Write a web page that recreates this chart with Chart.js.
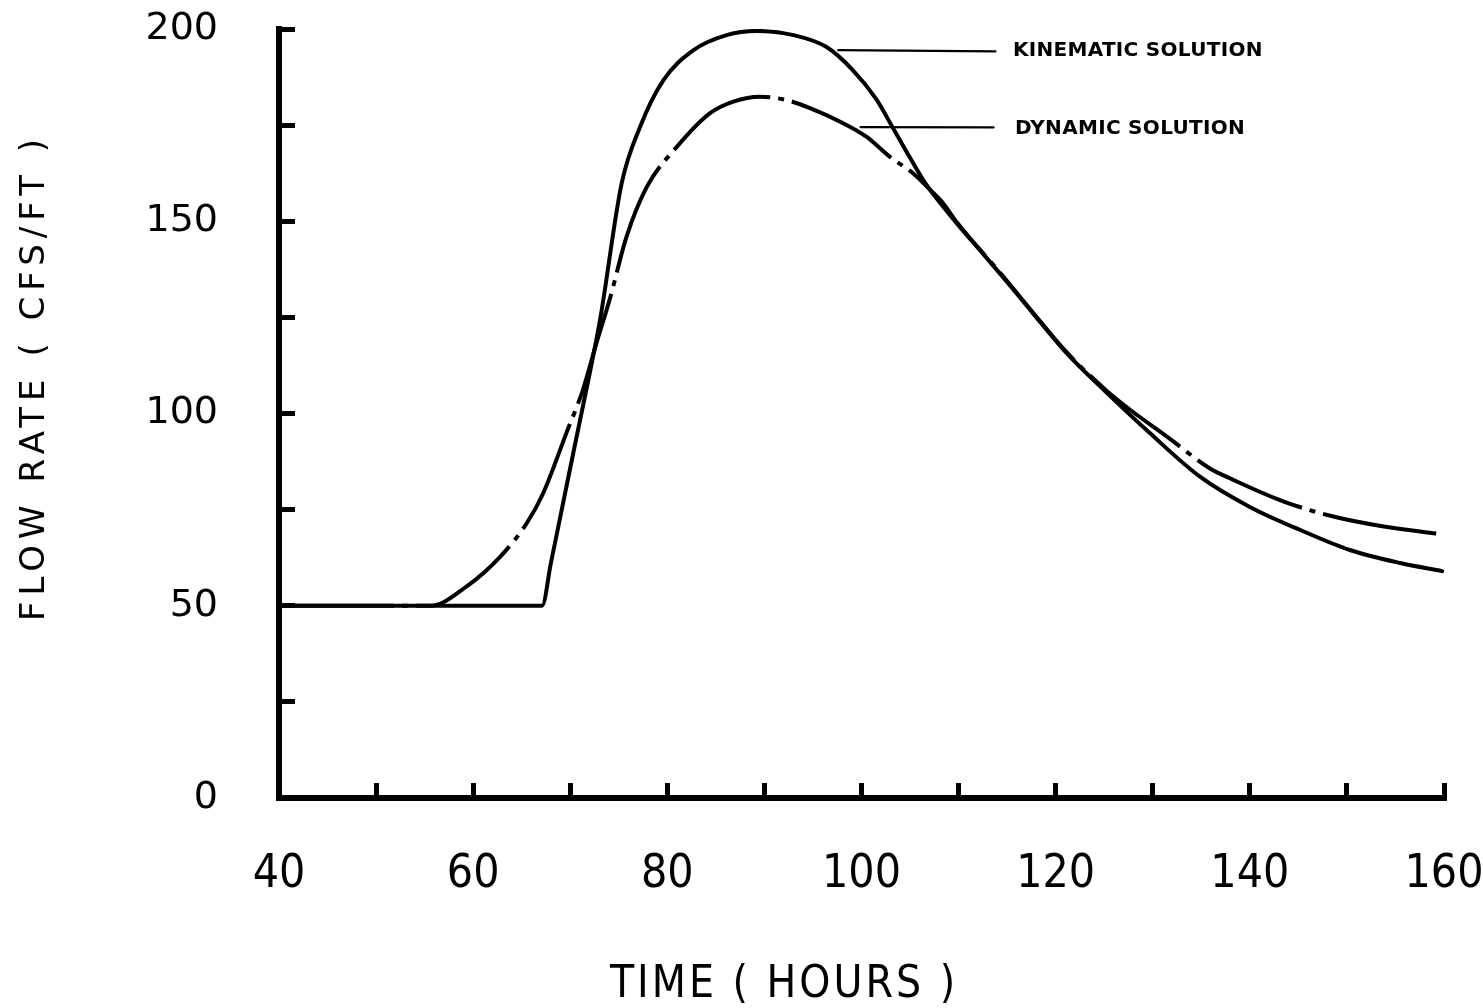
<!DOCTYPE html>
<html>
<head>
<meta charset="utf-8">
<script src="https://cdn.jsdelivr.net/npm/chart.js@4"></script>
<style>
  html, body { margin: 0; padding: 0; background: #ffffff; }
  #wrap { width: 1483px; height: 1008px; position: relative; }
</style>
</head>
<body>
<div id="wrap"><canvas id="c"></canvas></div>
<script>
// ---- data ----
const kinematicHours = [40, 67.1, 68.0, 70.3, 72.0, 73.1, 75.3, 77.2, 79.6, 82.7, 86.1, 89.2, 93.0, 96.4, 99.1, 101.5, 103.3, 105.0, 106.5, 108.1, 109.8, 112.9, 115.6, 118.4, 121.2, 125.3, 129.7, 134.9, 140.0, 145.2, 150.3, 155.5, 159.8];
const kinematicFlow  = [50, 50, 61.0, 89.6, 110.4, 124.8, 159.9, 174.6, 186.7, 194.5, 198.4, 199.5, 198.4, 195.3, 189.3, 181.8, 174.0, 166.5, 160.2, 154.8, 149.5, 140.4, 132.4, 123.8, 115.5, 105.3, 94.9, 83.5, 75.7, 69.7, 64.5, 61.1, 59.0];

const dynamicHours = [40, 55.6, 59.3, 62.8, 65.5, 67.2, 69.6, 71.3, 72.7, 74.1, 75.8, 77.9, 81.0, 84.4, 86.8, 89.5, 92.3, 95.0, 97.8, 100.5, 102.9, 105.3, 107.1, 108.4, 109.8, 114.3, 118.4, 121.1, 125.3, 127.7, 131.5, 135.9, 138.0, 143.5, 148.6, 153.8, 159.4];
const dynamicFlow  = [50, 50, 55.0, 62.8, 71.4, 79.2, 94.9, 106.1, 118.3, 130.0, 146.0, 159.0, 169.4, 178.1, 181.1, 182.4, 181.5, 179.1, 175.9, 172.0, 166.8, 162.5, 158.1, 154.7, 149.8, 136.5, 124.0, 116.0, 105.8, 100.9, 93.9, 85.7, 83.1, 77.1, 73.2, 70.6, 68.7];

const seriesNames = ['KINEMATIC SOLUTION', 'DYNAMIC SOLUTION'];
const xTickLabels = [40, 60, 80, 100, 120, 140, 160];
const yTickLabels = [0, 50, 100, 150, 200];
const xAxisTitle = 'TIME ( HOURS )';
const yAxisTitle = 'FLOW RATE ( CFS/FT )';

// ---- build library structures ----
const toPoints = (xs, ys) => xs.map((x, i) => ({ x: x, y: ys[i] }));

const figureText = {
  id: 'figureText',
  afterDraw(chart, args, opts) {
    const ctx = chart.ctx;
    const xs = chart.scales.x, ys = chart.scales.y;
    ctx.save();
    ctx.fillStyle = '#000';
    ctx.strokeStyle = '#000';
    // callouts (leader line + label), anchored in data coordinates
    opts.callouts.forEach(c => {
      ctx.lineWidth = 2.2;
      ctx.lineCap = 'round';
      ctx.beginPath();
      ctx.moveTo(xs.getPixelForValue(c.from[0]), ys.getPixelForValue(c.from[1]));
      ctx.lineTo(xs.getPixelForValue(c.to[0]), ys.getPixelForValue(c.to[1]));
      ctx.stroke();
      ctx.font = 'bold 20px "DejaVu Sans", sans-serif';
      ctx.letterSpacing = '0.3px';
      ctx.textAlign = 'left';
      ctx.textBaseline = 'middle';
      ctx.fillText(c.text, xs.getPixelForValue(c.textAt[0]), ys.getPixelForValue(c.textAt[1]));
    });
    // axis titles
    const t = opts.titles;
    ctx.letterSpacing = t.x.spacing;
    ctx.font = t.x.font;
    ctx.textAlign = 'center';
    ctx.textBaseline = 'middle';
    ctx.fillText(xAxisTitle, t.x.cx, t.x.cy);
    ctx.save();
    ctx.translate(t.y.cx, t.y.cy);
    ctx.rotate(-Math.PI / 2);
    ctx.letterSpacing = t.y.spacing;
    ctx.font = t.y.font;
    ctx.fillText(yAxisTitle, 0, 0);
    ctx.restore();
    ctx.letterSpacing = '0px';
    ctx.restore();
  }
};

Chart.defaults.color = '#000';
Chart.defaults.font.family = '"DejaVu Sans", sans-serif';

new Chart(document.getElementById('c'), {
  type: 'line',
  data: {
    datasets: [
      {
        label: seriesNames[0],
        data: toPoints(kinematicHours, kinematicFlow),
        borderColor: '#000',
        borderWidth: 4,
        pointRadius: 0,
        fill: false,
        cubicInterpolationMode: 'monotone',
        borderCapStyle: 'round',
        borderJoinStyle: 'round'
      },
      {
        label: seriesNames[1],
        data: toPoints(dynamicHours, dynamicFlow),
        borderColor: '#000',
        borderWidth: 4,
        borderDash: [115, 8, 6, 8],
        pointRadius: 0,
        fill: false,
        cubicInterpolationMode: 'monotone',
        borderCapStyle: 'butt',
        borderJoinStyle: 'round'
      }
    ]
  },
  options: {
    responsive: true,
    maintainAspectRatio: false,
    animation: false,
    events: [],
    layout: { padding: { top: 29, right: 39, bottom: 0, left: 0 } },
    plugins: {
      legend: { display: false },
      tooltip: { enabled: false },
      figureText: {
        callouts: [
          { text: seriesNames[0], from: [97.6, 194.5], to: [113.8, 194.2], textAt: [115.6, 194.3] },
          { text: seriesNames[1], from: [99.9, 174.5], to: [113.6, 174.4], textAt: [115.8, 174.0] }
        ],
        titles: {
          x: { cx: 784, cy: 986, font: '44px "DejaVu Sans Condensed", "DejaVu Sans", sans-serif', spacing: '3px' },
          y: { cx: 35, cy: 377, font: '34px "DejaVu Sans", sans-serif', spacing: '6px' }
        }
      }
    },
    scales: {
      x: {
        type: 'linear',
        position: 'bottom',
        min: 40,
        max: 160,
        border: { display: true, color: '#000', width: 6 },
        grid: { display: true, drawOnChartArea: false, drawTicks: true, tickLength: -15, tickWidth: 5, tickColor: '#000' },
        ticks: {
          stepSize: 10,
          autoSkip: false,
          maxRotation: 0,
          minRotation: 0,
          padding: 64,
          color: '#000',
          font: { size: 46, family: '"DejaVu Sans Condensed", "DejaVu Sans", sans-serif' },
          callback: (v) => xTickLabels.includes(v) ? String(v) : ''
        },
        afterFit(scale) { scale.height = 210; scale.paddingLeft = 0; scale.paddingRight = 0; }
      },
      y: {
        type: 'linear',
        position: 'left',
        min: 0,
        max: 200,
        border: { display: true, color: '#000', width: 6 },
        grid: { display: true, drawOnChartArea: false, drawTicks: true, tickLength: -16, tickWidth: 5, tickColor: '#000' },
        ticks: {
          stepSize: 25,
          autoSkip: false,
          padding: 77,
          color: '#000',
          font: { size: 38, family: '"DejaVu Sans", sans-serif' },
          callback: (v) => yTickLabels.includes(v) ? String(v) : ''
        },
        afterFit(scale) { scale.width = 279; scale.paddingTop = 0; scale.paddingBottom = 0; }
      }
    }
  },
  plugins: [figureText]
});
</script>
</body>
</html>
